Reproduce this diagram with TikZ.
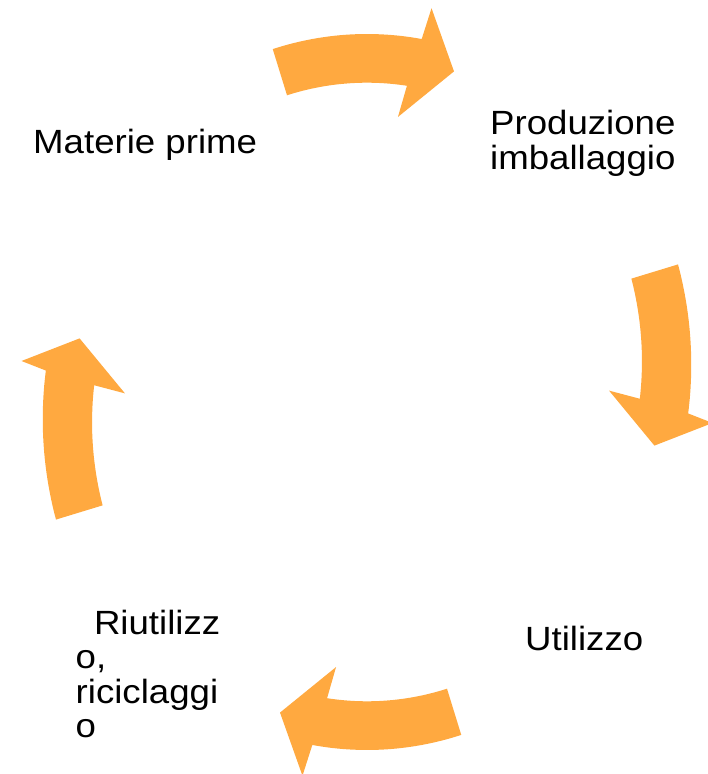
\documentclass[tikz,border=0pt]{standalone}
\usepackage{graphicx}
\usepackage{fontspec}
\setmainfont{Liberation Sans}
\definecolor{arroworange}{RGB}{255,169,64}
\tikzset{
  lbl/.style={inner sep=0pt, anchor=north west, font=\fontsize{33.6}{34.3}\selectfont},
  cyc/.style={fill=arroworange, draw=none}
}
\newcommand{\stretchtxt}[1]{\scalebox{1.09}[1]{\begin{tabular}{@{}l@{}}#1\end{tabular}}}
\begin{document}
\begin{tikzpicture}[x=1pt,y=1pt]
\useasboundingbox (0,0) rectangle (708,774);
% curved arrows on an ellipse centred at (367,382)
\begin{scope}[shift={(367pt,382pt)}, x=328pt, y=358pt]
  % top arrow (Materie prime -> Produzione)
  \fill[cyc] plot[domain=106.7:80.4, samples=30] (\x:1.0)
    -- (79.6:1.09) -- (73.5:0.934) -- (83.0:0.774)
    -- plot[domain=81.9:106.4, samples=30] (\x:0.864) -- cycle;
  % bottom arrow (Utilizzo -> Riutilizzo)
  \fill[cyc] plot[domain=286.7:260.4, samples=30] (\x:1.0)
    -- (259.6:1.09) -- (253.5:0.934) -- (263.0:0.774)
    -- plot[domain=261.9:286.4, samples=30] (\x:0.864) -- cycle;
  % right arrow (Produzione -> Utilizzo)
  \fill[cyc] plot[domain=20.6:-3.5, samples=30] (\x:{1.013+(\x-20.6)*0.001328})
    -- (-4.7:1.057) -- (-9.7:0.889) -- (0.3:0.738)
    -- plot[domain=-1.3:21.45, samples=30] (\x:{0.866+(\x-21.45)*0.001495}) -- cycle;
  % left arrow (Riutilizzo -> Materie prime)
  \fill[cyc] plot[domain=200.6:176.5, samples=30] (\x:{1.013+(\x-200.6)*0.001328})
    -- (175.3:1.057) -- (170.3:0.889) -- (180.3:0.738)
    -- plot[domain=178.7:201.45, samples=30] (\x:{0.866+(\x-201.45)*0.001495}) -- cycle;
\end{scope}
% labels
\node[lbl] (mp) at (33,645) {\stretchtxt{Materie prime}};
\node[lbl] (pi) at (490,664) {\stretchtxt{Produzione\\imballaggio}};
\node[lbl] (ut) at (525,148) {\stretchtxt{Utilizzo}};
\node[lbl] (rr) at (75.5,164) {\stretchtxt{\hspace*{0.5em}Riutilizz\\o,\\riciclaggi\\o}};
\end{tikzpicture}
\end{document}
